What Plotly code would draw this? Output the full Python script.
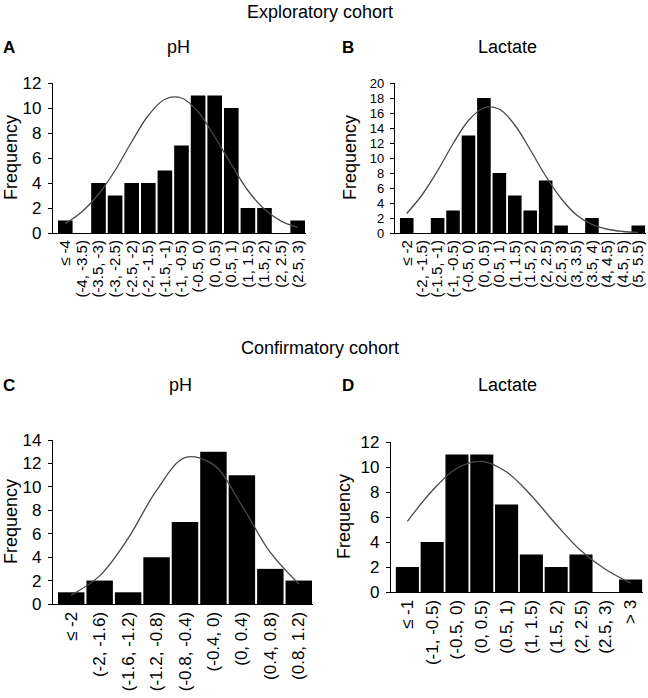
import plotly.graph_objects as go

W, H = 648, 698

# Panel A: pH, exploratory cohort
a_labels = ["≤ -4", "(-4, -3.5)", "(-3.5, -3)", "(-3, -2.5)", "(-2.5, -2)", "(-2, -1.5)",
            "(-1.5, -1)", "(-1, -0.5)", "(-0.5, 0)", "(0, 0.5)", "(0.5, 1)", "(1, 1.5)",
            "(1.5, 2)", "(2, 2.5)", "(2.5, 3)"]
a_freq = [1, 0, 4, 3, 4, 4, 5, 7, 11, 11, 10, 2, 2, 0, 1]
a_curve = [0.75, 1.7, 3.1, 5.0, 7.3, 9.4, 10.7, 10.8, 9.7, 7.7, 5.5, 3.4, 1.9, 0.95, 0.45]

# Panel B: lactate, exploratory cohort
b_labels = ["≤ -2", "(-2, -1.5)", "(-1.5, -1)", "(-1, -0.5)", "(-0.5, 0)", "(0, 0.5)",
            "(0.5, 1)", "(1, 1.5)", "(1.5, 2)", "(2, 2.5)", "(2.5, 3)", "(3, 3.5)",
            "(3.5, 4)", "(4, 4.5)", "(4.5, 5)", "(5, 5.5)"]
b_freq = [2, 0, 2, 3, 13, 18, 8, 5, 3, 7, 1, 0, 2, 0, 0, 1]
b_curve = [2.6, 5.1, 8.3, 11.9, 15.0, 16.7, 16.5, 14.4, 11.1, 7.6, 4.6, 2.4, 1.15, 0.5, 0.2, 0.06]

# Panel C: pH, confirmatory cohort
c_labels = ["≤ -2", "(-2, -1.6)", "(-1.6, -1.2)", "(-1.2, -0.8)", "(-0.8, -0.4)",
            "(-0.4, 0)", "(0, 0.4)", "(0.4, 0.8)", "(0.8, 1.2)"]
c_freq = [1, 2, 1, 4, 7, 13, 11, 3, 2]
c_curve = [0.76, 2.4, 5.6, 9.7, 12.5, 11.9, 8.4, 4.4, 1.72]

# Panel D: lactate, confirmatory cohort
d_labels = ["≤ -1", "(-1, -0.5)", "(-0.5, 0)", "(0, 0.5)", "(0.5, 1)", "(1, 1.5)",
            "(1.5, 2)", "(2, 2.5)", "(2.5, 3)", "> 3"]
d_freq = [2, 4, 11, 11, 7, 3, 2, 3, 0, 1]
d_curve = [5.65, 8.1, 9.9, 10.45, 9.6, 7.7, 5.4, 3.3, 1.8, 0.72]

FONT = "Liberation Sans, Arial, Helvetica, sans-serif"

# pixel box of each plot area: left, right, top, bottom, ymax,
# gap before first bar (in slots), bar width, x label size, y label size
panels = [
    (a_labels, a_freq, a_curve, 53, 306, 83, 233, 12, 0.24, 0.88, 15, 17),
    (b_labels, b_freq, b_curve, 395, 646, 83, 233, 20, 0.26, 0.88, 15, 13),
    (c_labels, c_freq, c_curve, 53, 313, 440, 604, 14, 0.14, 0.93, 17, 17),
    (d_labels, d_freq, d_curve, 391, 643, 442, 592, 12, 0.16, 0.93, 17, 17),
]

fig = go.Figure()

for k, (labels, freq, curve, x0, x1, y0, y1, ymax, pad, bw, xsize, ysize) in enumerate(panels):
    n = k + 1
    xa = "x" if n == 1 else f"x{n}"
    ya = "y" if n == 1 else f"y{n}"
    idx = list(range(len(labels)))
    fig.add_trace(go.Bar(x=idx, y=freq, xaxis=xa, yaxis=ya, width=bw,
                         marker=dict(color="black", line=dict(width=0)),
                         showlegend=False))
    fig.add_trace(go.Scatter(x=idx, y=curve, xaxis=xa, yaxis=ya, mode="lines",
                             line=dict(color="#4a4a4a", width=1.3, shape="spline"),
                             showlegend=False))
    xkey = "xaxis" if n == 1 else f"xaxis{n}"
    ykey = "yaxis" if n == 1 else f"yaxis{n}"
    fig.update_layout(**{
        xkey: dict(domain=[x0 / W, x1 / W], anchor=ya, range=[-0.5 - pad, len(labels) - 0.5],
                   tickmode="array", tickvals=idx, ticktext=labels, tickangle=-90,
                   showline=True, linecolor="black", linewidth=1.2, ticks="",
                   showgrid=False, zeroline=False, automargin=False,
                   tickfont=dict(family=FONT, size=xsize, color="black")),
        ykey: dict(domain=[1 - y1 / H, 1 - y0 / H], anchor=xa, range=[0, ymax],
                   tickmode="linear", tick0=0, dtick=2,
                   showline=True, linecolor="black", linewidth=1.2,
                   ticks="outside", ticklen=4, tickcolor="black", ticklabelstandoff=3,
                   showgrid=False, zeroline=False, automargin=False,
                   tickfont=dict(family=FONT, size=ysize, color="black")),
    })

texts = [
    ("Exploratory cohort", 320, 12, 18, False),
    ("Confirmatory cohort", 320, 348, 18, False),
    ("<b>A</b>", 9, 48, 17, False),
    ("pH", 178, 47, 18, False),
    ("<b>B</b>", 348, 48, 17, False),
    ("Lactate", 507, 47, 18, False),
    ("<b>C</b>", 9, 385, 17, False),
    ("pH", 180, 385, 18, False),
    ("<b>D</b>", 348, 385, 17, False),
    ("Lactate", 507, 385, 18, False),
    ("Frequency", 11, 158, 18, True),
    ("Frequency", 350, 158, 18, True),
    ("Frequency", 11, 522, 18, True),
    ("Frequency", 344, 517, 18, True),
]
for txt, px, py, size, vert in texts:
    fig.add_annotation(text=txt, x=px / W, y=1 - py / H, xref="paper", yref="paper",
                       showarrow=False, xanchor="center", yanchor="middle",
                       textangle=-90 if vert else 0,
                       font=dict(family=FONT, size=size, color="black"))

fig.update_layout(width=W, height=H, margin=dict(l=0, r=0, t=0, b=0),
                  paper_bgcolor="white", plot_bgcolor="white")

# page body has a default 8px margin; drop it so the figure fills the window
fig.write_html("out.html", config={"displayModeBar": False},
               post_script="document.body.style.margin='0px';")
